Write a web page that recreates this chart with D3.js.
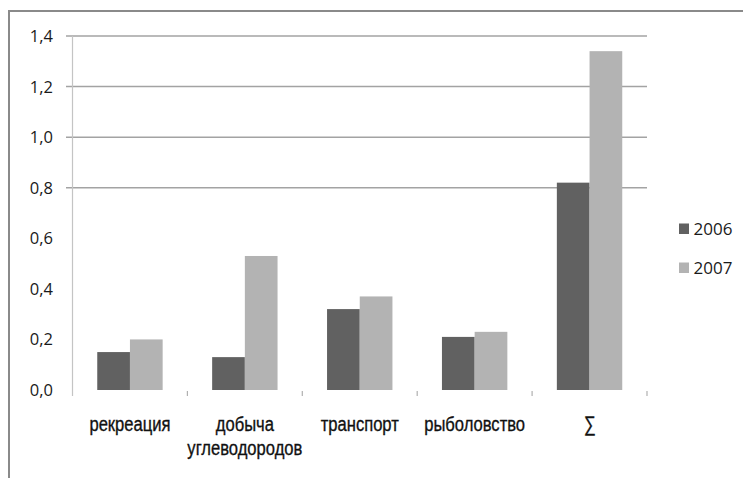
<!DOCTYPE html>
<html>
<head>
<meta charset="utf-8">
<script src="https://cdn.jsdelivr.net/npm/d3@7"></script>
<style>
  html, body { margin: 0; padding: 0; background: #ffffff; }
  svg { display: block; }
</style>
</head>
<body>
<svg id="chart" width="743" height="478"></svg>
<script>
// ---- data ----
const categories = ["рекреация", "добыча\nуглеводородов", "транспорт", "рыболовство", "∑"];
const seriesNames = ["2006", "2007"];
const values2006 = [0.15, 0.13, 0.32, 0.21, 0.82];
const values2007 = [0.20, 0.53, 0.37, 0.23, 1.34];
const yTickValues = [0, 0.2, 0.4, 0.6, 0.8, 1.0, 1.2, 1.4];
const gridTickValues = [0.8, 1.0, 1.2, 1.4];
const seriesColors = ["#616161", "#b3b3b3"];

const svg = d3.select("#chart");
const W = 743, H = 478;

// frame (only top and left visible)
svg.append("rect").attr("x", 0).attr("y", 0).attr("width", W).attr("height", H).attr("fill", "#ffffff");
svg.append("line").attr("x1", 8).attr("x2", W).attr("y1", 11).attr("y2", 11)
  .attr("stroke", "#8a8a8a").attr("stroke-width", 2);
svg.append("line").attr("x1", 9).attr("x2", 9).attr("y1", 10).attr("y2", H)
  .attr("stroke", "#8a8a8a").attr("stroke-width", 2);

const plot = { left: 72.5, right: 647, top: 36, bottom: 390 };

const x0 = d3.scaleBand().domain(categories).range([plot.left, plot.right]).paddingInner(0).paddingOuter(0);
const x1 = d3.scaleBand().domain(seriesNames).range([0, x0.bandwidth()]).paddingInner(0).paddingOuter(0.757);
const y = d3.scaleLinear().domain([0, 1.4]).range([plot.bottom, plot.top]);
const color = d3.scaleOrdinal().domain(seriesNames).range(seriesColors);

const fmt = v => d3.format(".1f")(v).replace(".", ",");

// gridlines
svg.append("g").selectAll("line").data(gridTickValues).join("line")
  .attr("x1", plot.left - 6.5).attr("x2", plot.right)
  .attr("y1", d => y(d)).attr("y2", d => y(d))
  .attr("stroke", "#a3a3a3").attr("stroke-width", 1.5);

// y axis line
svg.append("line").attr("x1", plot.left).attr("x2", plot.left)
  .attr("y1", plot.top).attr("y2", plot.bottom + 6)
  .attr("stroke", "#c4c4c4").attr("stroke-width", 1.2);

// y labels
svg.append("g").selectAll("text").data(yTickValues).join("text")
  .attr("x", 53).attr("y", d => y(d))
  .attr("dy", "0.36em")
  .attr("text-anchor", "end")
  .attr("font-family", "'Open Sans', sans-serif")
  .attr("font-size", 16.5)
  .attr("fill", "#1a1a1a")
  .text(d => fmt(d));

// x ticks at band boundaries
svg.append("g").selectAll("line").data(categories).join("line")
  .attr("x1", d => x0(d) + x0.bandwidth()).attr("x2", d => x0(d) + x0.bandwidth())
  .attr("y1", plot.bottom + 1).attr("y2", plot.bottom + 6)
  .attr("stroke", "#b0b0b0").attr("stroke-width", 1.2);

// bars
const rows = categories.map((c, i) => ({ cat: c, vals: [values2006[i], values2007[i]] }));
const groups = svg.append("g").selectAll("g").data(rows).join("g")
  .attr("transform", d => `translate(${x0(d.cat)},0)`);
groups.selectAll("rect").data(d => seriesNames.map((s, j) => ({ s, v: d.vals[j] }))).join("rect")
  .attr("x", d => x1(d.s))
  .attr("width", x1.bandwidth())
  .attr("y", d => y(d.v))
  .attr("height", d => y(0) - y(d.v))
  .attr("fill", d => color(d.s));

// x labels (condensed)
const xl = svg.append("g").selectAll("text").data(categories).join("text")
  .attr("transform", d => `translate(${x0(d) + x0.bandwidth() / 2},431) scale(0.79,1)`)
  .attr("text-anchor", "middle")
  .attr("font-family", "'Liberation Sans', Arial, sans-serif")
  .attr("font-size", 21)
  .attr("fill", "#111111")
  .attr("stroke", "#111111")
  .attr("stroke-width", 0.35);
xl.each(function(d) {
  const lines = d.split("\n");
  const t = d3.select(this);
  lines.forEach((ln, k) => {
    t.append("tspan").attr("x", 0).attr("dy", k === 0 ? 0 : 24).text(ln);
  });
});

// legend
const leg = svg.append("g").selectAll("g").data(seriesNames).join("g")
  .attr("transform", (d, i) => `translate(679, ${223.5 + i * 39})`);
leg.append("rect").attr("width", 10).attr("height", 10.5).attr("fill", d => color(d));
leg.append("text").attr("x", 14.5).attr("y", 11)
  .attr("font-family", "'Open Sans', sans-serif")
  .attr("font-size", 17)
  .attr("fill", "#1a1a1a")
  .text(d => d);
</script>
</body>
</html>
